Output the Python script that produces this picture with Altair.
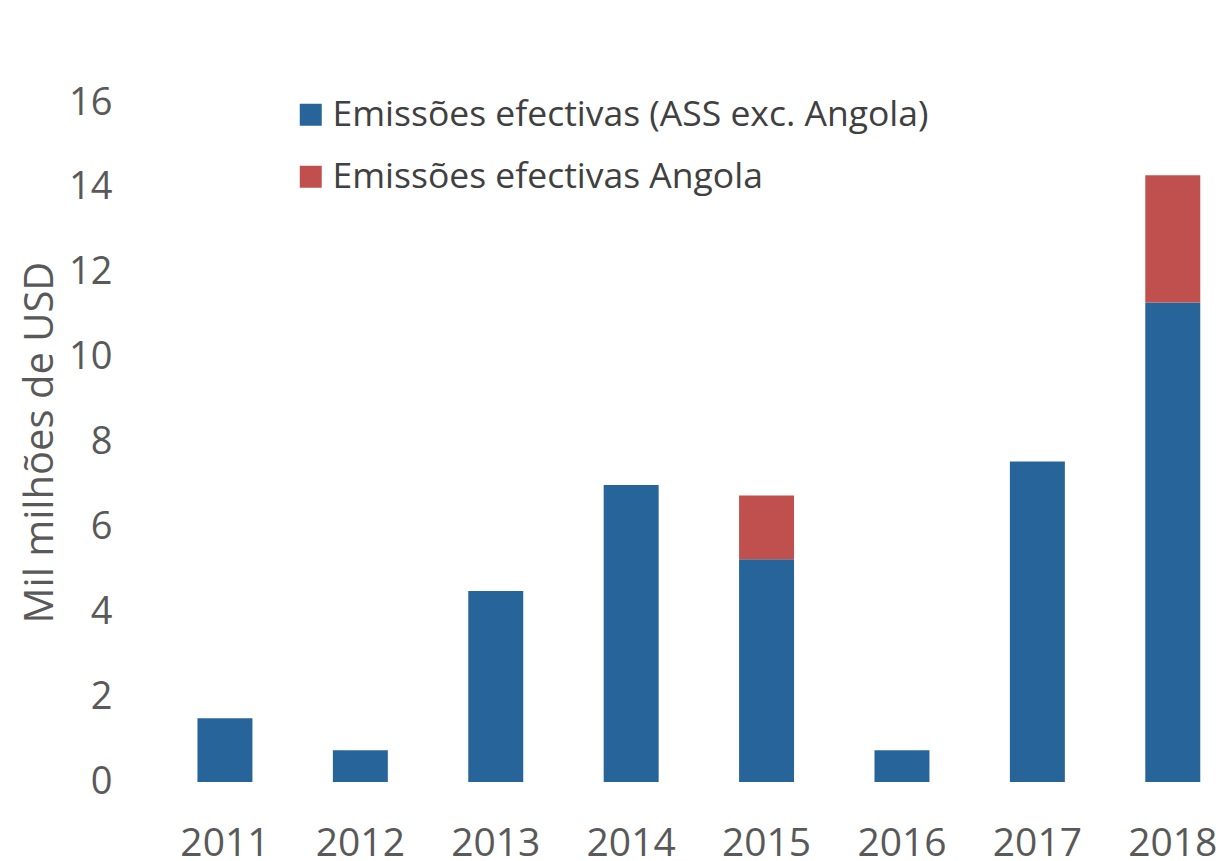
import altair as alt
import pandas as pd

years = ["2011", "2012", "2013", "2014", "2015", "2016", "2017", "2018"]
ass_ex_angola = [1.5, 0.75, 4.5, 7.0, 5.25, 0.75, 7.55, 11.3]
angola = [0.0, 0.0, 0.0, 0.0, 1.5, 0.0, 0.0, 3.0]
series = ["Emissões efectivas (ASS exc. Angola)", "Emissões efectivas Angola"]
colors = ["#276499", "#C0504D"]
y_title = "Mil milhões de USD"
y_ticks = [0, 2, 4, 6, 8, 10, 12, 14, 16]

rows = []
for i, y in enumerate(years):
    rows.append({"ano": y, "serie": series[0], "valor": ass_ex_angola[i], "ordem": 0})
    rows.append({"ano": y, "serie": series[1], "valor": angola[i], "ordem": 1})
df = pd.DataFrame(rows)

FONT = "Open Sans"

chart = alt.Chart(df).mark_bar().encode(
    x=alt.X("ano:N", sort=years,
            scale=alt.Scale(paddingInner=0.594, paddingOuter=0.2075, align=0.72),
            axis=alt.Axis(title=None, labelAngle=0, domain=False, ticks=False,
                          labelPadding=42, labelFontSize=39, labelColor="#595959",
                          labelFont=FONT)),
    y=alt.Y("valor:Q", stack="zero",
            scale=alt.Scale(domain=[0, 16], nice=False),
            axis=alt.Axis(values=y_ticks, title=y_title, domain=False, ticks=False, grid=False,
                          labelPadding=45, labelFontSize=38, labelColor="#595959",
                          labelFont=FONT, labelFontWeight="normal",
                          titleFont=FONT, titleFontSize=40, titleColor="#595959",
                          titleFontWeight="normal",
                          titleX=-105, titleY=339, titleAngle=-90,
                          titleAlign="center", titleBaseline="alphabetic")),
    color=alt.Color("serie:N",
                    scale=alt.Scale(domain=series, range=colors),
                    legend=alt.Legend(title=None, orient="none", legendX=136, legendY=-6,
                                      symbolType="square", symbolSize=484,
                                      symbolStrokeWidth=0, labelFont=FONT,
                                      labelFontSize=35.5, labelColor="#404040",
                                      labelLimit=1000, rowPadding=25, padding=0,
                                      labelOffset=4)),
    order=alt.Order("ordem:Q"),
).properties(
    width=1059, height=679,
    background="white",
    padding={"left": 149, "top": 95, "right": 0, "bottom": 79},
    autosize=alt.AutoSizeParams(type="none"),
).configure_view(strokeWidth=0, stroke=None)

chart.save("out.html", embed_options={"renderer": "svg", "actions": False})
